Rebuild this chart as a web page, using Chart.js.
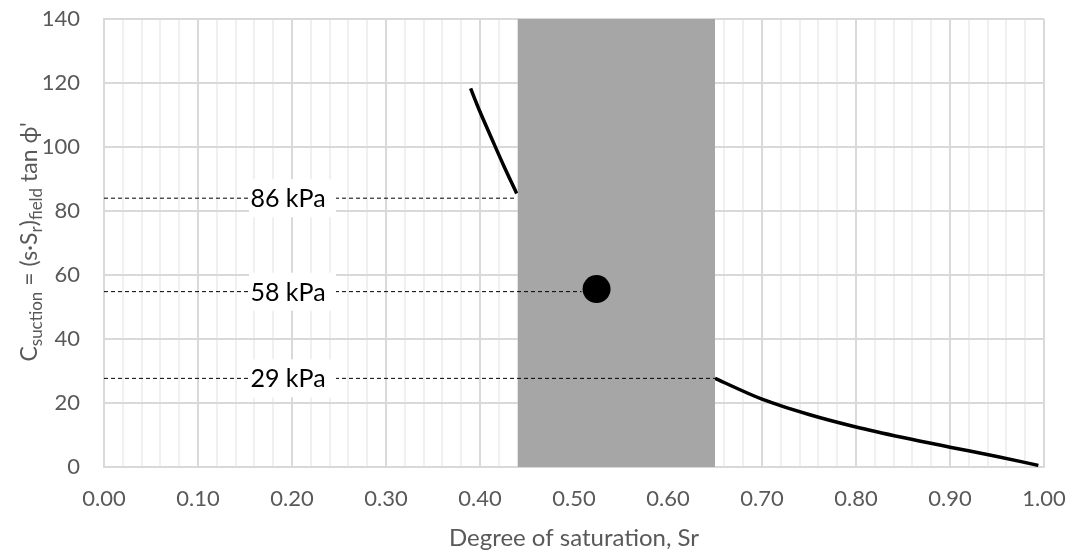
<!DOCTYPE html>
<html>
<head>
<meta charset="utf-8">
<script src="https://cdn.jsdelivr.net/npm/chart.js@4.4.1/dist/chart.umd.min.js"></script>
<style>
    html, body { margin: 0; padding: 0; background: #fff; }
    #wrap { width: 1073px; height: 553px; position: relative; }
</style>
</head>
<body>
<div id="wrap"><canvas id="chart" width="1073" height="553"></canvas></div>
<script>
// Curve (the part inside the grey band is hidden)
const satLeft = [0.390, 0.400, 0.411, 0.425, 0.439];
const cLeft = [118.3, 111.0, 103.6, 94.3, 85.5];
const satRight = [0.650, 0.700, 0.750, 0.800, 0.850, 0.900, 0.950, 0.994];
const cRight = [27.7, 21.2, 16.4, 12.5, 9.2, 6.2, 3.3, 0.5];

// Grey band of field saturation
const bandSat = [0.44, 0.65];
const bandTop = 140;

// Field point
const pointSat = [0.524];
const pointC = [55.6];

// Dashed reference levels and their labels
const levelValues = [84.0, 54.8, 27.7];
const levelEnds = [0.439, 0.508, 0.650];
const levelLabels = ['86 kPa', '58 kPa', '29 kPa'];
const labelSat = 0.2;

const xTicksMajor = 0.1;
const yMax = 140;

const FONT = 'Lato, "Open Sans", sans-serif';
const GREY_TEXT = '#595959';

function toXY(xs, ys) {
    return xs.map((x, i) => ({ x: x, y: ys[i] }));
}

const bandData = [
    { x: bandSat[0], y: 0 }, { x: bandSat[0], y: bandTop },
    { x: bandSat[1], y: bandTop }, { x: bandSat[1], y: 0 }
];

const levelSets = levelValues.map((v, i) => ({
    data: [{ x: 0, y: v }, { x: levelEnds[i], y: v }],
    showLine: true,
    borderColor: '#000',
    borderWidth: 1,
    borderDash: [4, 3],
    pointRadius: 0,
    fill: false,
    order: 2
}));

// Label boxes on the dashed lines and the y axis title with subscripts
const annotations = {
    id: 'annotations',
    afterDatasetsDraw(chart) {
        const ctx = chart.ctx;
        const xs = chart.scales.x, ys = chart.scales.y;
        ctx.save();
        ctx.font = '25px ' + FONT;
        ctx.textAlign = 'center';
        ctx.textBaseline = 'middle';
        levelValues.forEach((v, i) => {
            const px = xs.getPixelForValue(labelSat);
            const py = ys.getPixelForValue(v);
            ctx.fillStyle = '#fff';
            ctx.fillRect(px - 43, py - 19, 87, 38);
            ctx.fillStyle = '#000';
            ctx.fillText(levelLabels[i], px - 4, py + 1);
        });
        ctx.restore();
    },
    afterDraw(chart) {
        const ctx = chart.ctx;
        const parts = [
            ['C', 23, 0], ['suction', 17, 5], [' = (s\u00b7S', 23, 0], ['r', 17, 5],
            [')', 23, 0], ['field', 17, 5], [' tan \u03d5\'', 23, 0]
        ];
        ctx.save();
        ctx.translate(37, 242);
        ctx.rotate(-Math.PI / 2);
        ctx.fillStyle = GREY_TEXT;
        ctx.textBaseline = 'alphabetic';
        ctx.textAlign = 'left';
        let total = 0;
        parts.forEach(p => {
            ctx.font = p[1] + 'px ' + FONT;
            total += ctx.measureText(p[0]).width;
        });
        let cx = -total / 2;
        parts.forEach(p => {
            ctx.font = p[1] + 'px ' + FONT;
            ctx.fillText(p[0], cx, p[2]);
            cx += ctx.measureText(p[0]).width;
        });
        ctx.restore();
    }
};

function isMajor(v) {
    return Math.abs(v / xTicksMajor - Math.round(v / xTicksMajor)) < 1e-6;
}

new Chart(document.getElementById('chart'), {
    type: 'scatter',
    data: {
        datasets: [
            {
                data: toXY(satLeft, cLeft),
                showLine: true, borderColor: '#000', borderWidth: 3.5,
                pointRadius: 0, cubicInterpolationMode: 'monotone', fill: false, order: 4
            },
            {
                data: toXY(satRight, cRight),
                showLine: true, borderColor: '#000', borderWidth: 3.5,
                pointRadius: 0, cubicInterpolationMode: 'monotone', fill: false, order: 4
            },
            {
                data: bandData,
                showLine: true, borderWidth: 0, borderColor: 'rgba(0,0,0,0)',
                backgroundColor: '#a6a6a6', fill: 'origin',
                pointRadius: 0, tension: 0, order: 3
            },
            ...levelSets,
            {
                data: toXY(pointSat, pointC),
                pointRadius: 14, pointHoverRadius: 14,
                backgroundColor: '#000', borderColor: '#000', borderWidth: 0,
                order: 1
            }
        ]
    },
    options: {
        responsive: false,
        animation: false,
        events: [],
        layout: { padding: { left: 0, right: 29, top: 19, bottom: 0 } },
        plugins: {
            legend: { display: false },
            tooltip: { enabled: false }
        },
        scales: {
            x: {
                type: 'linear',
                min: 0,
                max: 1,
                afterFit: s => {
                    s.height = 86;
                    s.paddingLeft = 0;
                    s.paddingRight = 0;
                },
                ticks: {
                    stepSize: 0.02,
                    autoSkip: false,
                    maxRotation: 0,
                    padding: 19,
                    color: GREY_TEXT,
                    font: { family: FONT, size: 22 },
                    callback: v => isMajor(v) ? v.toFixed(2) : ''
                },
                grid: {
                    drawTicks: false,
                    color: c => isMajor(c.tick.value) ? '#d9d9d9' : '#f0f0f0',
                    lineWidth: 2
                },
                border: { color: '#d9d9d9', width: 2 },
                title: {
                    display: true,
                    text: 'Degree of saturation, Sr',
                    color: GREY_TEXT,
                    font: { family: FONT, size: 24 },
                    padding: { top: 0, bottom: 0 }
                }
            },
            y: {
                min: 0,
                max: yMax,
                afterFit: s => {
                    s.width = 104;
                    s.paddingTop = 0;
                    s.paddingBottom = 0;
                },
                ticks: {
                    stepSize: 20,
                    padding: 24,
                    color: GREY_TEXT,
                    font: { family: FONT, size: 22 }
                },
                grid: {
                    drawTicks: false,
                    color: '#d9d9d9',
                    lineWidth: 2
                },
                border: { color: '#d9d9d9', width: 2 }
            }
        }
    },
    plugins: [annotations]
});
</script>
</body>
</html>
